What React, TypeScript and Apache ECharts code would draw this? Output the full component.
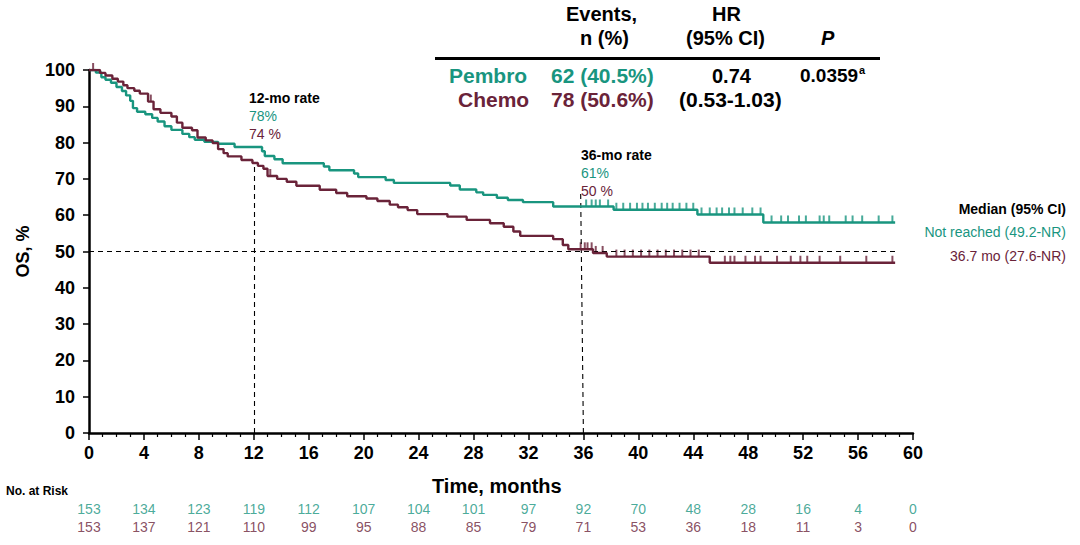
import React, { useEffect, useRef } from "react";
import * as echarts from "echarts";

const TEAL = "#19957f";
const MAROON = "#6a2339";

// Kaplan-Meier step points [month, OS %]
const pembroSteps: [number, number][] = [
  [0, 100], [0.5, 99.3], [0.9, 98], [1.2, 97.3], [1.6, 96.5], [2.0, 95.3], [2.4, 94.2], [2.7, 93],
  [3.0, 91.5], [3.2, 89.5], [3.5, 88.5], [4.1, 87.8], [4.6, 86.8], [5.0, 85.8], [5.5, 84.5], [6.0, 83.5],
  [6.8, 82.4], [7.3, 81.5], [7.7, 80.8], [8.4, 80.2], [9.4, 79.7], [10.6, 78.8], [12.6, 77.6], [12.8, 76.3],
  [13.5, 75.4], [14.1, 74.3], [17.1, 73.4], [17.5, 72.4], [19.3, 71.5], [19.6, 70.5], [21.6, 69.7], [22.2, 68.9],
  [26.3, 68.2], [27.0, 67.1], [28.2, 66.3], [28.7, 65.6], [29.7, 64.8], [30.5, 64.2], [31.6, 63.6], [33.8, 62.4],
  [38.2, 61.5], [44.3, 60.2], [49.1, 58.0], [58.7, 58.0],
];

const chemoSteps: [number, number][] = [
  [0, 100], [0.8, 99.2], [1.2, 98.5], [1.7, 97.6], [2.1, 96.8], [2.5, 95.8], [2.8, 95], [3.3, 94.3],
  [3.7, 93.5], [4.3, 91.3], [4.7, 89.2], [5.2, 88.2], [6.0, 87.2], [6.4, 85.5], [6.8, 84.1], [7.5, 83.4],
  [7.9, 81.4], [8.5, 80.6], [9.0, 79.9], [9.4, 78.2], [9.8, 77.1], [10.1, 76.2], [11.1, 75.2], [11.9, 74.4],
  [12.3, 73.6], [12.7, 72.8], [13.0, 70.8], [13.7, 70.0], [14.4, 69.2], [15.1, 68.1], [16.8, 67.0], [18.0, 66.1],
  [18.8, 65.2], [20.2, 64.6], [21.0, 63.9], [21.9, 62.9], [22.5, 62.2], [23.2, 61.4], [23.9, 60.3], [26.1, 59.6],
  [27.5, 58.7], [29.2, 57.8], [30.2, 56.8], [30.9, 55.5], [31.4, 54.3], [33.8, 53.4], [34.5, 51.8], [34.9, 50.6],
  [36.7, 49.6], [37.7, 48.6], [45.2, 46.9], [58.7, 46.9],
];

// censor times (months)
const pembroCensor = [
  36.2, 36.6, 36.9, 37.2, 37.8, 38.4, 38.9, 39.4, 39.9, 40.3, 40.7, 41.2, 41.7, 42.1, 42.5, 43.0, 43.5, 44.0,
  44.6, 45.2, 45.7, 46.1, 46.6, 47.0, 47.6, 48.3, 48.9, 49.7, 50.4, 50.9, 51.7, 52.2, 53.2, 53.5, 53.9, 55.1,
  55.6, 56.3, 57.5, 58.5,
];
const chemoCensor = [
  0.3, 4.5, 13.2, 35.8, 36.1, 36.3, 36.6, 36.9, 37.4, 38.4, 39.0, 39.6, 40.2, 40.8, 41.4, 42.0, 42.6, 43.2,
  43.8, 44.4, 46.3, 46.7, 47.0, 47.8, 48.5, 48.9, 50.1, 51.1, 51.8, 52.3, 53.2, 54.7, 56.6, 58.5,
];

// Number at risk
const riskMonths = [0, 4, 8, 12, 16, 20, 24, 28, 32, 36, 40, 44, 48, 52, 56, 60];
const pembroRisk = [153, 134, 123, 119, 112, 107, 104, 101, 97, 92, 70, 48, 28, 16, 4, 0];
const chemoRisk = [153, 137, 121, 110, 99, 95, 88, 85, 79, 71, 53, 36, 18, 11, 3, 0];

const yTicks = [0, 10, 20, 30, 40, 50, 60, 70, 80, 90, 100];

function valueAt(steps: [number, number][], t: number): number {
  let v = steps[0][1];
  for (const [s, val] of steps) {
    if (s <= t) v = val;
    else break;
  }
  return v;
}

const FONT = "Arial, 'Liberation Sans', sans-serif";

export default function App() {
  const ref = useRef<HTMLDivElement>(null);
  useEffect(() => {
    if (!ref.current) return;
    const chart = echarts.init(ref.current, undefined, { renderer: "svg" });

    const censorSeries = (times: number[], steps: [number, number][], color: string) => ({
      type: "scatter",
      xAxisIndex: 0,
      yAxisIndex: 0,
      data: times.map((t) => [t, valueAt(steps, t)]),
      symbol: "rect",
      symbolSize: [2, 7],
      symbolOffset: [0, -3.5],
      itemStyle: { color },
      z: 4,
      silent: true,
    });

    const riskSeries = (vals: number[], row: number, color: string) => ({
      type: "scatter",
      xAxisIndex: 1,
      yAxisIndex: 1,
      data: riskMonths.map((m, i) => [m, row, vals[i]]),
      symbolSize: 1,
      itemStyle: { color: "transparent" },
      label: {
        show: true,
        position: "inside",
        formatter: (p: any) => String(p.value[2]),
        color,
        fontSize: 14,
        fontFamily: FONT,
      },
      silent: true,
    });

    const option: any = {
      animation: false,
      grid: [
        { left: 89, right: 167, top: 70, height: 363 },
        { left: 89, right: 167, top: 500, height: 36 },
      ],
      xAxis: [
        {
          type: "value",
          gridIndex: 0,
          min: 0,
          max: 60,
          interval: 4,
          axisLine: { show: true, onZero: false, lineStyle: { color: "#000", width: 2.5 } },
          axisTick: { show: true, length: 7, lineStyle: { color: "#000", width: 1.5 } },
          minorTick: { show: true, splitNumber: 4, length: 4, lineStyle: { color: "#000", width: 1.2 } },
          splitLine: { show: false },
          axisLabel: { color: "#000", fontSize: 18, fontWeight: "bold", fontFamily: FONT, margin: 11 },
        },
        { type: "value", gridIndex: 1, min: 0, max: 60, show: false },
      ],
      yAxis: [
        {
          type: "value",
          gridIndex: 0,
          min: 0,
          max: 100,
          interval: 10,
          axisLine: { show: true, lineStyle: { color: "#000", width: 2.5 } },
          axisTick: { show: true, length: 6, lineStyle: { color: "#000", width: 1.5 } },
          splitLine: { show: false },
          axisLabel: {
            color: "#000",
            fontSize: 18,
            fontWeight: "bold",
            fontFamily: FONT,
            margin: 14,
            formatter: (v: number) => (yTicks.includes(v) ? String(v) : ""),
          },
          name: "OS, %",
          nameLocation: "middle",
          nameGap: 57,
          nameRotate: 90,
          nameTextStyle: { color: "#000", fontSize: 18, fontWeight: "bold", fontFamily: FONT },
        },
        { type: "value", gridIndex: 1, min: 0, max: 2, show: false },
      ],
      series: [
        {
          type: "line",
          name: "Pembro",
          xAxisIndex: 0,
          yAxisIndex: 0,
          step: "end",
          data: pembroSteps,
          showSymbol: false,
          lineStyle: { color: TEAL, width: 2.4 },
          z: 5,
          markLine: {
            silent: true,
            symbol: "none",
            label: { show: false },
            lineStyle: { color: "#000", type: [5, 4], width: 1.1 },
            data: [
              [{ coord: [0, 50] }, { coord: [58.9, 50] }],
              [{ coord: [12, 0] }, { coord: [12, 73.5] }],
              [{ coord: [36, 0] }, { coord: [35.8, 66.5] }],
            ],
          },
        },
        {
          type: "line",
          name: "Chemo",
          xAxisIndex: 0,
          yAxisIndex: 0,
          step: "end",
          data: chemoSteps,
          showSymbol: false,
          lineStyle: { color: MAROON, width: 2.4 },
          z: 5,
        },
        censorSeries(pembroCensor, pembroSteps, TEAL),
        censorSeries(chemoCensor, chemoSteps, MAROON),
        riskSeries(pembroRisk, 1.5, TEAL),
        riskSeries(chemoRisk, 0.5, MAROON),
      ],
      graphic: [
        // table header
        { type: "text", left: 566, top: 4, style: { text: "Events,", font: `bold 20px ${FONT}`, fill: "#000" } },
        { type: "text", left: 580, top: 28, style: { text: "n (%)", font: `bold 20px ${FONT}`, fill: "#000" } },
        { type: "text", left: 712, top: 4, style: { text: "HR", font: `bold 20px ${FONT}`, fill: "#000" } },
        { type: "text", left: 686, top: 28, style: { text: "(95% CI)", font: `bold 20px ${FONT}`, fill: "#000" } },
        { type: "text", left: 821, top: 28, style: { text: "P", font: `italic bold 20px ${FONT}`, fill: "#000" } },
        { type: "line", shape: { x1: 435, y1: 58.5, x2: 880, y2: 58.5 }, style: { stroke: "#000", lineWidth: 3 } },
        // rows
        { type: "text", left: 449, top: 65, style: { text: "Pembro", font: `bold 21px ${FONT}`, fill: TEAL } },
        { type: "text", left: 551, top: 65, style: { text: "62 (40.5%)", font: `bold 21px ${FONT}`, fill: TEAL } },
        { type: "text", left: 712, top: 66, style: { text: "0.74", font: `bold 20px ${FONT}`, fill: "#000" } },
        { type: "text", left: 800, top: 66, style: { text: "0.0359", font: `bold 19px ${FONT}`, fill: "#000" } },
        { type: "text", left: 859, top: 64, style: { text: "a", font: `bold 11px ${FONT}`, fill: "#000" } },
        { type: "text", left: 458, top: 89, style: { text: "Chemo", font: `bold 21px ${FONT}`, fill: MAROON } },
        { type: "text", left: 551, top: 89, style: { text: "78 (50.6%)", font: `bold 21px ${FONT}`, fill: MAROON } },
        { type: "text", left: 679, top: 89, style: { text: "(0.53-1.03)", font: `bold 21px ${FONT}`, fill: "#000" } },
        // rate annotations
        { type: "text", left: 249, top: 91, style: { text: "12-mo rate", font: `bold 14px ${FONT}`, fill: "#000" } },
        { type: "text", left: 249, top: 109, style: { text: "78%", font: `14px ${FONT}`, fill: TEAL } },
        { type: "text", left: 249, top: 127, style: { text: "74 %", font: `14px ${FONT}`, fill: MAROON } },
        { type: "text", left: 581, top: 148, style: { text: "36-mo rate", font: `bold 14px ${FONT}`, fill: "#000" } },
        { type: "text", left: 581, top: 166, style: { text: "61%", font: `14px ${FONT}`, fill: TEAL } },
        { type: "text", left: 581, top: 184, style: { text: "50 %", font: `14px ${FONT}`, fill: MAROON } },
        // median legend
        { type: "text", right: 14, top: 202, style: { text: "Median (95% CI)", font: `bold 14px ${FONT}`, fill: "#000" } },
        { type: "text", right: 14, top: 225, style: { text: "Not reached (49.2-NR)", font: `14px ${FONT}`, fill: TEAL } },
        { type: "text", right: 14, top: 249, style: { text: "36.7 mo (27.6-NR)", font: `14px ${FONT}`, fill: MAROON } },
        // axis title & at-risk label
        { type: "text", left: 432, top: 476, style: { text: "Time, months", font: `bold 20px ${FONT}`, fill: "#000" } },
        { type: "text", left: 6, top: 485, style: { text: "No. at Risk", font: `bold 12px ${FONT}`, fill: "#000" } },
      ],
    };
    chart.setOption(option);
    return () => chart.dispose();
  }, []);

  return (
    <div
      ref={ref}
      style={{ position: "fixed", left: 0, top: 0, width: 1080, height: 545, background: "#fff" }}
    />
  );
}
